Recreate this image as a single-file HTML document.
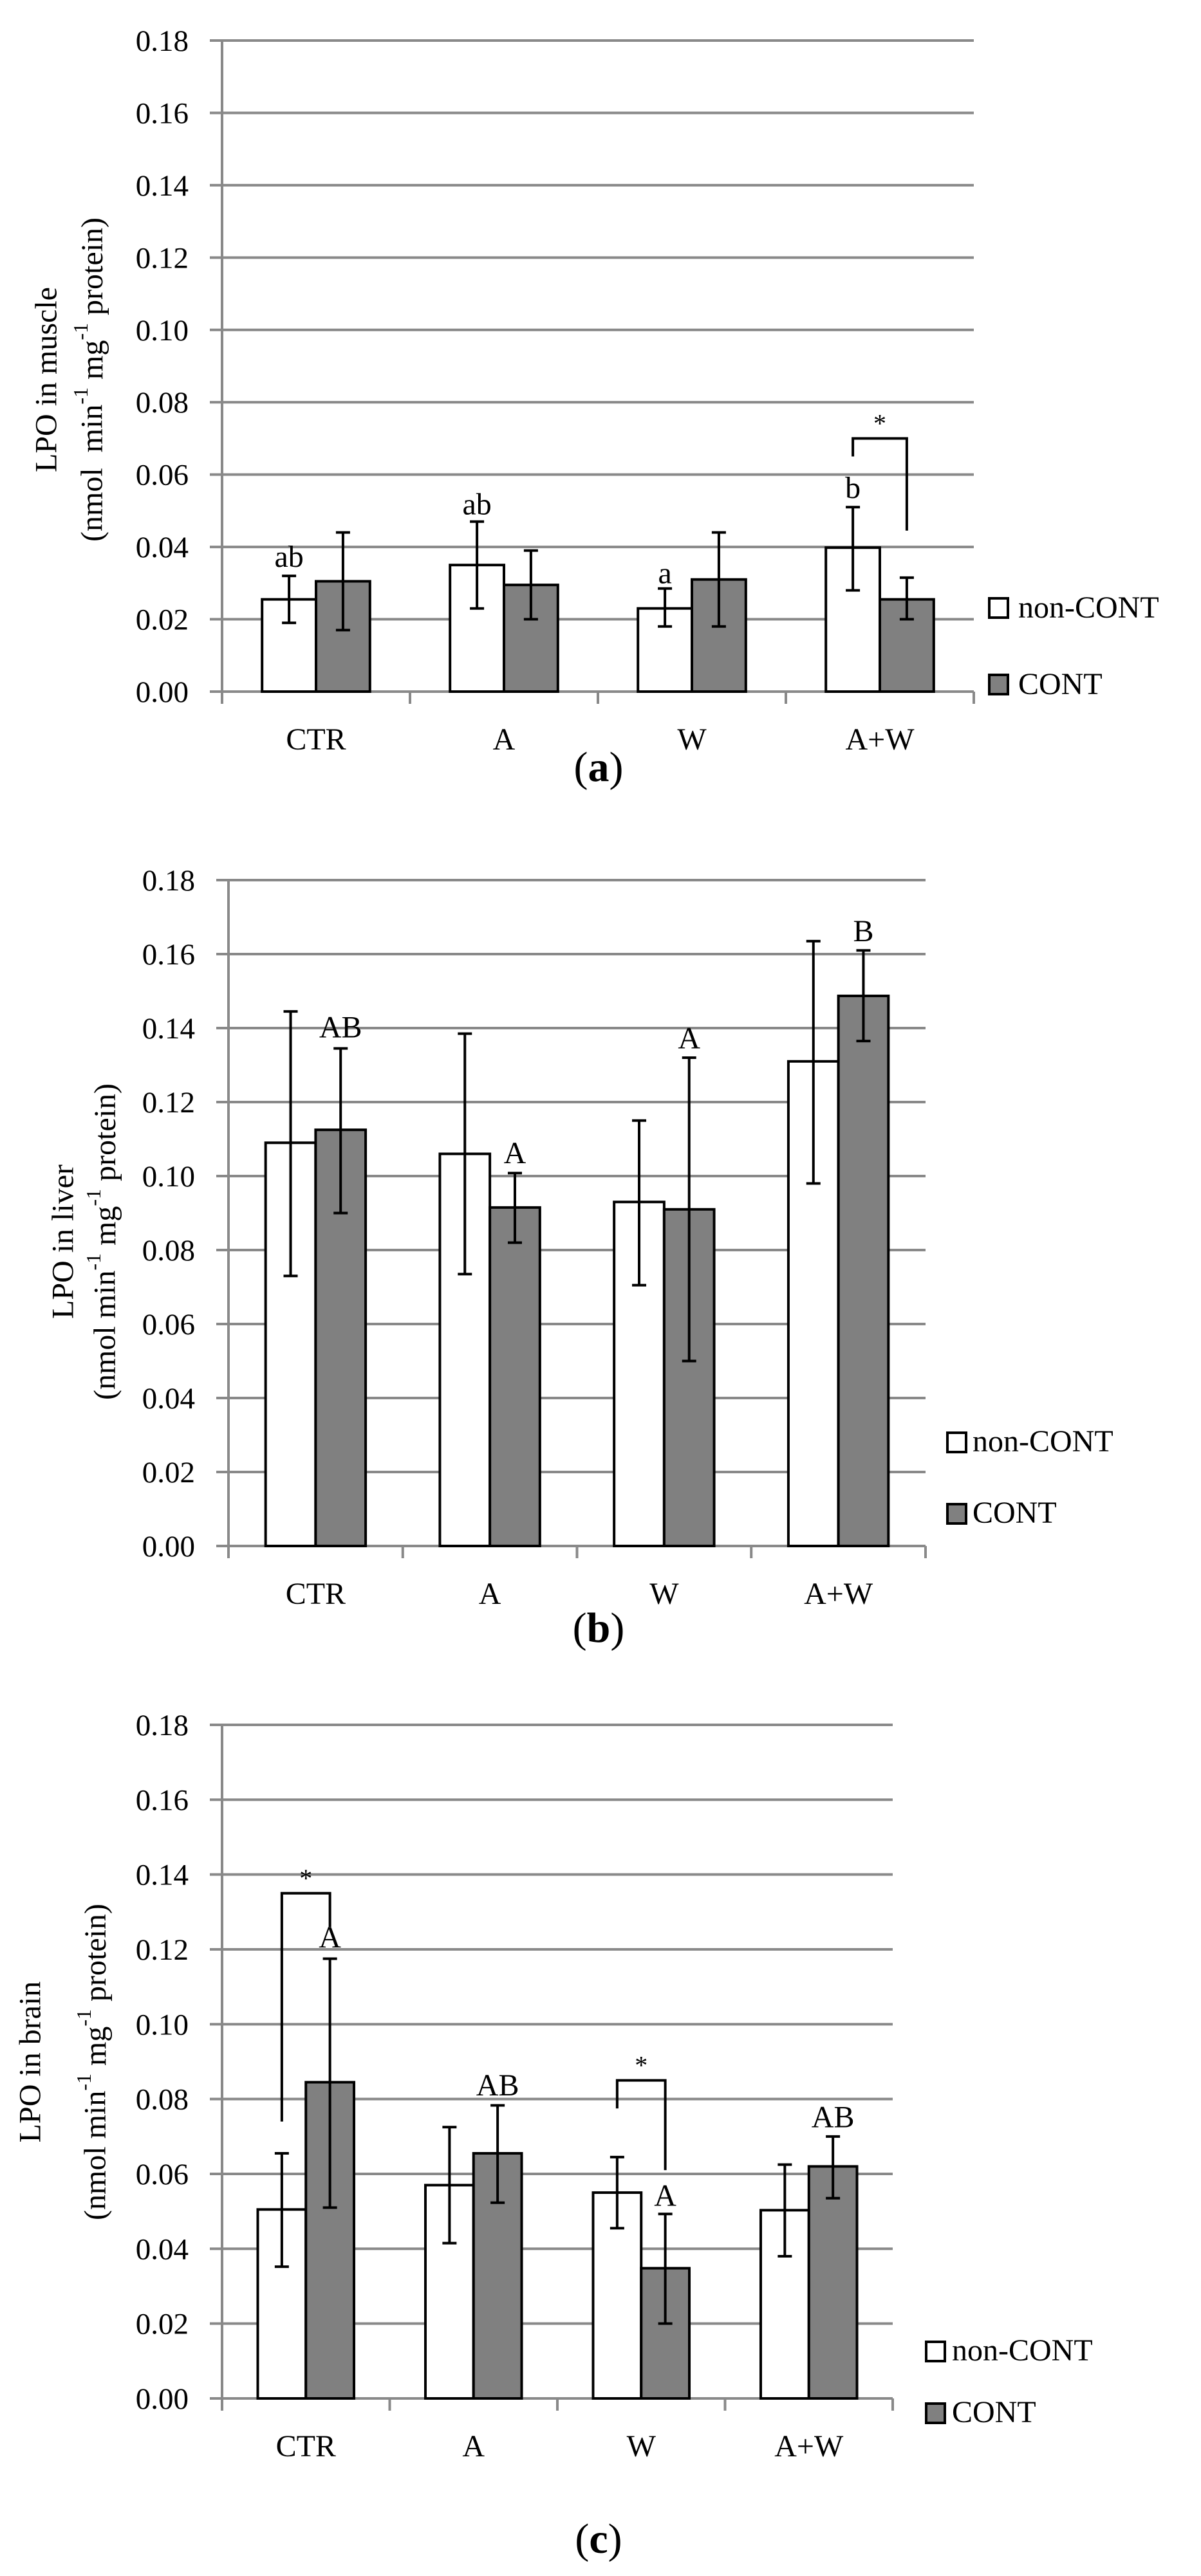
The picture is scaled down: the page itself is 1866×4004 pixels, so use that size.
<!DOCTYPE html>
<html><head><meta charset="utf-8"><style>
html,body{margin:0;padding:0;background:#fff;}
svg{display:block;}
text{font-family:"Liberation Serif",serif;fill:#000;}
</style></head><body>
<svg id="s" xmlns="http://www.w3.org/2000/svg" width="1866" height="4004" viewBox="0 0 1866 4004"></svg>
<script>
const S=document.getElementById('s');let h='';
const panels=[
 {ax:345,right:1513,top:63,bot:1075,title:'LPO in muscle',t1x:72,t2x:143,tmy:590,lab:'a',laby:1214,
  leg:{sx:1535,s1:928,s2:1047,tx:1582,b1:960,b2:1079},tickR:293,
  data:[[0.0255,0.019,0.032,0.0305,0.017,0.044],[0.035,0.023,0.047,0.0295,0.020,0.039],[0.023,0.018,0.0285,0.031,0.018,0.044],[0.0398,0.028,0.051,0.0255,0.020,0.0315]],
  ann:[[0,0,'ab',0.0345],[1,0,'ab',0.049],[2,0,'a',0.030],[3,0,'b',0.0535]],
  br:[[3,0.065,0.070,0.0445]],titleSep:'  '},
 {ax:355,right:1438,top:1368,bot:2403,title:'LPO in liver',t1x:98,t2x:163,tmy:1930,lab:'b',laby:2552,
  leg:{sx:1470,s1:2225,s2:2336,tx:1511,b1:2256,b2:2367},tickR:303,
  data:[[0.109,0.073,0.1445,0.1125,0.090,0.1345],[0.106,0.0735,0.1385,0.0915,0.082,0.1008],[0.093,0.0705,0.115,0.091,0.050,0.132],[0.131,0.098,0.1635,0.1487,0.1365,0.161]],
  ann:[[0,1,'AB',0.1375],[1,1,'A',0.1035],[2,1,'A',0.1345],[3,1,'B',0.1635]],br:[],titleSep:' '},
 {ax:345,right:1387,top:2681,bot:3728,title:'LPO in brain',t1x:47,t2x:148,tmy:3205,lab:'c',laby:3968,
  leg:{sx:1437,s1:3638,s2:3734,tx:1479,b1:3669,b2:3765},tickR:293,
  data:[[0.0505,0.0352,0.0655,0.0845,0.051,0.1175],[0.057,0.0415,0.0725,0.0655,0.0523,0.0783],[0.055,0.0455,0.0645,0.0348,0.020,0.0493],[0.0503,0.038,0.0625,0.062,0.0535,0.070]],
  ann:[[0,1,'A',0.1205],[1,1,'AB',0.081],[2,1,'A',0.0515],[3,1,'AB',0.0725]],
  br:[[0,0.074,0.135,0.126],[2,0.0775,0.085,0.061]],titleSep:' '}
];
const G='#898989';
for(const p of panels){
 const Y=v=>p.bot-(v/0.18)*(p.bot-p.top);
 const gw=(p.right-p.ax)/4, off=gw*0.213, bw=gw*0.287;
 for(let i=0;i<=9;i++){const y=Y(i*0.02);
  h+=`<line x1="${p.ax-19}" x2="${p.right}" y1="${y}" y2="${y}" stroke="${G}" stroke-width="4"/>`;
  h+=`<text x="${p.tickR}" y="${y+16}" font-size="47" text-anchor="end">${(i*0.02).toFixed(2)}</text>`;}
 h+=`<line x1="${p.ax}" x2="${p.ax}" y1="${p.top}" y2="${p.bot+19}" stroke="${G}" stroke-width="4"/>`;
 for(let k=1;k<=4;k++){const x=p.ax+k*gw;h+=`<line x1="${x}" x2="${x}" y1="${p.bot}" y2="${p.bot+19}" stroke="${G}" stroke-width="4"/>`;}
 const cats=['CTR','A','W','A+W'];
 p.data.forEach((d,g)=>{
  const x0=p.ax+g*gw+off;
  [[0,'#fff'],[1,'#808080']].forEach(([j,f])=>{
   const v=d[j*3],lo=d[j*3+1],hi=d[j*3+2],x=x0+j*bw;
   h+=`<rect x="${x}" y="${Y(v)}" width="${bw}" height="${p.bot-Y(v)}" fill="${f}" stroke="#000" stroke-width="4"/>`;
   const cx=x+bw/2;
   h+=`<path d="M${cx} ${Y(lo)}V${Y(hi)}M${cx-11} ${Y(lo)}h22M${cx-11} ${Y(hi)}h22" stroke="#000" stroke-width="4" fill="none"/>`;
  });
  h+=`<text x="${p.ax+g*gw+gw/2}" y="${p.bot+90}" font-size="48" text-anchor="middle">${cats[g]}</text>`;
 });
 for(const [g,j,t,v] of p.ann){const cx=p.ax+g*gw+off+j*bw+bw/2;
  h+=`<text x="${cx}" y="${Y(v)}" font-size="48" text-anchor="middle">${t}</text>`;}
 for(const [g,a,b,c] of p.br){const x1=p.ax+g*gw+off+bw/2,x2=x1+bw;
  h+=`<path d="M${x1} ${Y(a)}V${Y(b)}H${x2}V${Y(c)}" stroke="#000" stroke-width="4" fill="none"/>`;
  h+=`<text x="${(x1+x2)/2}" y="${Y(b)-10}" font-size="40" text-anchor="middle">*</text>`;}
 const L=p.leg;
 h+=`<rect x="${L.sx+2}" y="${L.s1+2}" width="29" height="30" fill="#fff" stroke="#000" stroke-width="4"/>`;
 h+=`<rect x="${L.sx+2}" y="${L.s2+2}" width="29" height="30" fill="#808080" stroke="#000" stroke-width="4"/>`;
 h+=`<text x="${L.tx}" y="${L.b1}" font-size="48">non-CONT</text>`;
 h+=`<text x="${L.tx}" y="${L.b2}" font-size="48">CONT</text>`;
 h+=`<text transform="translate(${p.t1x},${p.tmy}) rotate(-90)" font-size="48" text-anchor="middle" dominant-baseline="central">${p.title}</text>`;
 h+=`<text transform="translate(${p.t2x},${p.tmy}) rotate(-90)" font-size="48" text-anchor="middle" dominant-baseline="central" xml:space="preserve">(nmol${p.titleSep}min<tspan font-size="32" dy="-18">-1</tspan><tspan dy="18"> mg</tspan><tspan font-size="32" dy="-18">-1</tspan><tspan dy="18"> protein)</tspan></text>`;
 h+=`<text x="930" y="${p.laby}" font-size="66" text-anchor="middle">(<tspan font-weight="bold">${p.lab}</tspan>)</text>`;
}
S.innerHTML=h;
</script>
</body></html>
